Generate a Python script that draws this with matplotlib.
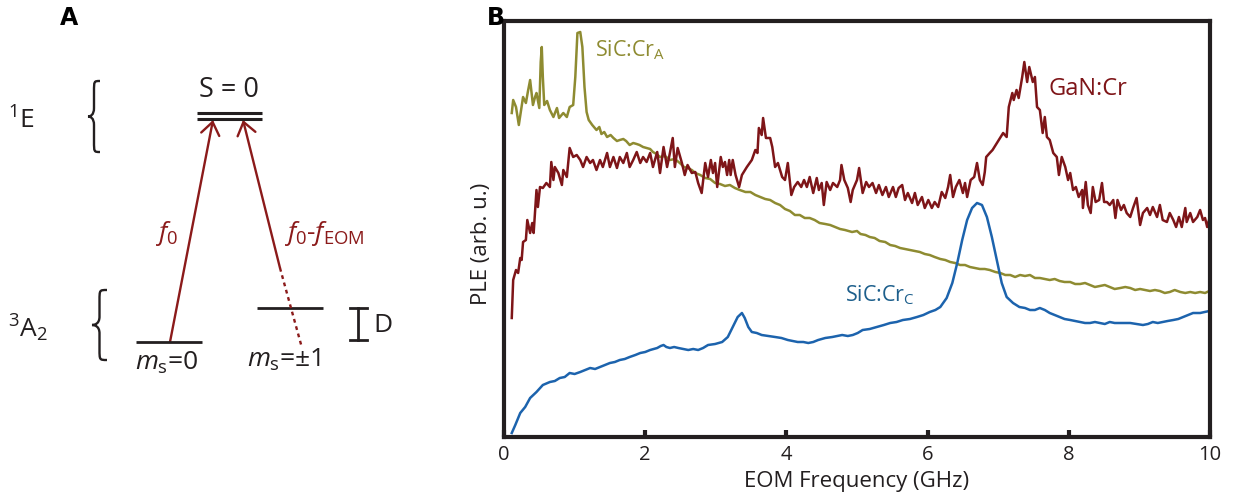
import matplotlib
matplotlib.use("Agg")
import matplotlib.pyplot as plt
from matplotlib.path import Path
from matplotlib.patches import PathPatch, FancyArrowPatch

plt.rcParams['font.family'] = ['Open Sans', 'DejaVu Sans']
plt.rcParams['mathtext.fontset'] = 'custom'
plt.rcParams['mathtext.rm'] = 'Open Sans'
plt.rcParams['mathtext.it'] = 'Open Sans:italic'
plt.rcParams['mathtext.bf'] = 'Open Sans:bold'

# ---------------- PLE spectra (arb. units) ----------------
sicA_freq = [0.11, 0.13, 0.17, 0.21, 0.24, 0.27, 0.31, 0.34, 0.37, 0.41, 0.44, 0.46, 0.50,
             0.52, 0.535, 0.55, 0.57, 0.61, 0.65, 0.70, 0.75, 0.78, 0.84, 0.89, 0.93, 0.98,
             1.01, 1.04, 1.08, 1.11, 1.14, 1.17, 1.20, 1.25, 1.31, 1.35, 1.38, 1.42, 1.46,
             1.51, 1.55, 1.60, 1.64, 1.69, 1.73, 1.78, 1.83, 1.88, 1.92, 1.97, 2.02, 2.07,
             2.11, 2.16, 2.21, 2.28, 2.35, 2.42, 2.49, 2.55, 2.60, 2.66, 2.71, 2.78, 2.85,
             2.92, 2.99, 3.06, 3.13, 3.20, 3.27, 3.34, 3.42, 3.49, 3.56, 3.63, 3.70, 3.77,
             3.84, 3.91, 3.98, 4.05, 4.12, 4.19, 4.26, 4.33, 4.40, 4.47, 4.55, 4.62, 4.69,
             4.76, 4.83, 4.93, 5.00, 5.05, 5.12, 5.18, 5.25, 5.32, 5.40, 5.47, 5.54, 5.61,
             5.68, 5.75, 5.82, 5.89, 5.96, 6.03, 6.10, 6.18, 6.25, 6.32, 6.39, 6.46, 6.53,
             6.60, 6.67, 6.74, 6.81, 6.88, 6.96, 7.03, 7.10, 7.17, 7.24, 7.31, 7.38, 7.45,
             7.52, 7.59, 7.66, 7.73, 7.80, 7.87, 7.94, 8.02, 8.09, 8.16, 8.23, 8.30, 8.37,
             8.44, 8.51, 8.58, 8.65, 8.73, 8.80, 8.87, 8.94, 9.01, 9.08, 9.15, 9.22, 9.29,
             9.36, 9.43, 9.50, 9.58, 9.65, 9.72, 9.79, 9.86, 9.93, 9.99]
sicA_ple = [324, 337, 330, 312, 326, 340, 334, 346, 357, 332, 340, 344, 329,
            375, 390, 360, 332, 336, 327, 320, 329, 319, 324, 320, 330, 332,
            360, 404, 405, 390, 350, 325, 317, 312, 307, 310, 303, 305, 300,
            302, 299, 296, 297, 298, 296, 292, 294, 293, 292, 290, 289, 288,
            285, 283, 280, 281, 277, 278, 274, 270, 269, 267, 264, 262, 259,
            258, 254, 253, 251, 252, 249, 247, 245, 245, 242, 240, 238, 237,
            234, 232, 228, 226, 222, 222, 219, 219, 217, 214, 213, 212, 210,
            208, 207, 205, 206, 203, 202, 200, 199, 196, 195, 192, 191, 189,
            188, 187, 186, 185, 183, 182, 180, 178, 177, 175, 174, 172, 172,
            170, 169, 168, 168, 167, 165, 164, 162, 162, 160, 162, 161, 162,
            159, 159, 158, 157, 158, 156, 155, 155, 153, 153, 154, 152, 150,
            151, 152, 150, 148, 149, 150, 149, 147, 148, 147, 146, 147, 146,
            144, 145, 147, 145, 144, 145, 144, 145, 144, 146]

gan_freq = [0.11, 0.13, 0.17, 0.20, 0.23, 0.25, 0.27, 0.31, 0.33, 0.37, 0.40, 0.42, 0.46,
            0.48, 0.51, 0.55, 0.60, 0.65, 0.67, 0.70, 0.72, 0.77, 0.82, 0.84, 0.89, 0.93,
            0.98, 1.03, 1.08, 1.12, 1.17, 1.22, 1.26, 1.31, 1.36, 1.40, 1.46, 1.50, 1.55,
            1.60, 1.64, 1.69, 1.74, 1.78, 1.83, 1.88, 1.93, 1.97, 2.02, 2.07, 2.11, 2.17,
            2.21, 2.26, 2.31, 2.35, 2.39, 2.42, 2.46, 2.52, 2.56, 2.60, 2.66, 2.71, 2.75,
            2.80, 2.85, 2.89, 2.93, 2.96, 2.99, 3.02, 3.07, 3.10, 3.13, 3.16, 3.19, 3.21,
            3.24, 3.28, 3.33, 3.37, 3.44, 3.51, 3.56, 3.59, 3.61, 3.65, 3.67, 3.71, 3.77,
            3.80, 3.84, 3.88, 3.94, 3.98, 4.02, 4.07, 4.11, 4.16, 4.21, 4.25, 4.29, 4.33,
            4.38, 4.43, 4.46, 4.50, 4.53, 4.57, 4.62, 4.66, 4.72, 4.76, 4.78, 4.82, 4.87,
            4.91, 4.94, 5.00, 5.03, 5.08, 5.13, 5.17, 5.22, 5.27, 5.31, 5.36, 5.41, 5.45,
            5.51, 5.55, 5.59, 5.64, 5.68, 5.72, 5.78, 5.82, 5.86, 5.92, 5.96, 6.01, 6.06,
            6.10, 6.15, 6.20, 6.25, 6.29, 6.32, 6.36, 6.40, 6.45, 6.50, 6.53, 6.56, 6.61,
            6.66, 6.70, 6.74, 6.78, 6.81, 6.83, 6.88, 6.92, 6.99, 7.07, 7.12, 7.15, 7.20,
            7.22, 7.26, 7.29, 7.34, 7.37, 7.41, 7.44, 7.49, 7.52, 7.55, 7.59, 7.63, 7.66,
            7.69, 7.73, 7.78, 7.83, 7.86, 7.90, 7.95, 7.99, 8.02, 8.06, 8.10, 8.14, 8.19,
            8.20, 8.24, 8.27, 8.31, 8.34, 8.38, 8.43, 8.47, 8.50, 8.54, 8.58, 8.63, 8.66,
            8.69, 8.74, 8.78, 8.82, 8.87, 8.91, 8.96, 9.01, 9.05, 9.11, 9.15, 9.19, 9.25,
            9.29, 9.33, 9.39, 9.43, 9.48, 9.52, 9.56, 9.60, 9.65, 9.67, 9.72, 9.76, 9.82,
            9.86, 9.90, 9.93, 9.96, 9.99]
gan_ple = [119, 157, 167, 164, 179, 177, 195, 197, 217, 204, 214, 204, 247,
           230, 250, 249, 254, 250, 275, 257, 270, 264, 252, 267, 260, 289,
           280, 282, 277, 270, 280, 274, 277, 267, 277, 270, 284, 270, 280,
           269, 280, 274, 284, 270, 277, 285, 274, 280, 275, 284, 270, 285,
           264, 290, 270, 284, 299, 270, 289, 274, 262, 272, 264, 265, 254,
           244, 274, 260, 277, 264, 274, 250, 280, 270, 275, 262, 277, 262,
           277, 262, 250, 262, 270, 277, 287, 284, 309, 302, 319, 299, 299,
           290, 270, 274, 260, 257, 274, 242, 250, 255, 250, 257, 250, 260,
           244, 259, 247, 254, 232, 255, 247, 254, 250, 257, 272, 257, 249,
           235, 247, 257, 269, 244, 255, 250, 254, 244, 252, 242, 250, 240,
           250, 240, 249, 252, 237, 244, 234, 244, 232, 240, 229, 237, 229,
           235, 230, 245, 239, 250, 262, 240, 250, 257, 244, 254, 240, 257,
           260, 274, 257, 252, 265, 280, 284, 287, 295, 304, 300, 330, 344,
           337, 347, 339, 360, 375, 355, 370, 355, 360, 330, 327, 304, 320,
           300, 297, 284, 280, 262, 280, 270, 257, 264, 247, 250, 240, 247,
           229, 255, 232, 224, 250, 235, 237, 254, 235, 235, 232, 237, 219,
           237, 227, 232, 224, 220, 229, 239, 212, 224, 229, 222, 230, 220,
           232, 217, 215, 224, 217, 210, 220, 210, 229, 215, 224, 215, 220,
           227, 217, 219, 210, 218]

sicC_freq = [0.11, 0.16, 0.23, 0.30, 0.37, 0.46, 0.55, 0.65, 0.72, 0.79, 0.86, 0.93, 1.00,
             1.08, 1.15, 1.22, 1.29, 1.36, 1.43, 1.50, 1.57, 1.64, 1.71, 1.78, 1.86, 1.93,
             2.00, 2.07, 2.12, 2.17, 2.22, 2.26, 2.30, 2.35, 2.41, 2.47, 2.54, 2.61, 2.68,
             2.75, 2.82, 2.89, 2.99, 3.09, 3.17, 3.24, 3.31, 3.37, 3.41, 3.46, 3.51, 3.58,
             3.65, 3.75, 3.84, 3.93, 4.02, 4.09, 4.16, 4.24, 4.31, 4.38, 4.45, 4.55, 4.65,
             4.72, 4.79, 4.87, 4.94, 5.01, 5.08, 5.18, 5.28, 5.38, 5.47, 5.56, 5.65, 5.75,
             5.85, 5.94, 6.03, 6.11, 6.18, 6.27, 6.35, 6.42, 6.49, 6.56, 6.63, 6.70, 6.77,
             6.84, 6.91, 6.98, 7.05, 7.12, 7.21, 7.30, 7.38, 7.45, 7.52, 7.59, 7.66, 7.73,
             7.80, 7.87, 7.94, 8.02, 8.09, 8.16, 8.23, 8.30, 8.37, 8.44, 8.51, 8.58, 8.65,
             8.73, 8.80, 8.87, 8.96, 9.05, 9.12, 9.19, 9.26, 9.33, 9.40, 9.48, 9.55, 9.62,
             9.69, 9.76, 9.86, 9.99]
sicC_ple = [4, 12, 24, 30, 39, 45, 52, 55, 56, 59, 60, 64, 63,
            65, 67, 69, 68, 70, 72, 74, 75, 77, 78, 80, 82, 84,
            85, 87, 88, 89, 91, 92, 90, 89, 90, 89, 88, 87, 88,
            87, 89, 92, 93, 95, 100, 110, 120, 124, 119, 110, 105, 104,
            102, 101, 100, 99, 97, 96, 95, 95, 94, 95, 97, 99, 100,
            101, 102, 101, 102, 104, 107, 108, 110, 112, 114, 115, 117, 118,
            120, 122, 125, 127, 130, 139, 154, 174, 197, 217, 229, 234, 232,
            220, 200, 177, 154, 140, 134, 130, 129, 127, 127, 129, 127, 124,
            122, 120, 118, 117, 116, 115, 114, 114, 115, 114, 113, 115, 114,
            114, 114, 114, 113, 112, 113, 115, 114, 115, 116, 117, 118, 120,
            122, 124, 124, 126]

x_ticks = [0, 2, 4, 6, 8, 10]

olive = '#8e8b31'
maroon = '#7e1518'
blue = '#1c63ad'
ink = '#231f20'

fig = plt.figure(figsize=(12.34, 5.0), dpi=100)

# ---------------- Panel A: energy-level diagram ----------------
axA = fig.add_axes([0, 0, 0.4, 1])
axA.set_xlim(0, 493.6)
axA.set_ylim(500, 0)
axA.axis('off')


def brace(ax, x_tip, x_end, y0, y1, **kw):
    """Left-pointing curly brace from y0 (top) to y1 (bottom)."""
    h = y1 - y0
    ym = (y0 + y1) / 2
    xs = (x_tip + x_end) / 2
    verts = [
        (x_end, y0),
        (xs, y0), (xs, y0), (xs, y0 + 0.15 * h),
        (xs, ym - 0.12 * h),
        (xs, ym - 0.02 * h), (x_tip + 0.2 * (x_end - x_tip), ym), (x_tip, ym),
        (x_tip + 0.2 * (x_end - x_tip), ym), (xs, ym + 0.02 * h), (xs, ym + 0.12 * h),
        (xs, y1 - 0.15 * h),
        (xs, y1), (xs, y1), (x_end, y1),
    ]
    codes = [Path.MOVETO,
             Path.CURVE4, Path.CURVE4, Path.CURVE4,
             Path.LINETO,
             Path.CURVE4, Path.CURVE4, Path.CURVE4,
             Path.CURVE4, Path.CURVE4, Path.CURVE4,
             Path.LINETO,
             Path.CURVE4, Path.CURVE4, Path.CURVE4]
    ax.add_patch(PathPatch(Path(verts, codes), fill=False, **kw))


axA.text(69, 18, 'A', fontsize=17, fontweight='bold', ha='center', va='center',
         color='black', family=['DejaVu Sans'])

# excited singlet
axA.text(229, 90, 'S = 0', fontsize=19.5, ha='center', va='center', color=ink)
axA.plot([197, 262], [113, 113], color=ink, lw=2.2, solid_capstyle='butt')
axA.plot([197, 262], [118.5, 118.5], color=ink, lw=2.2, solid_capstyle='butt')
axA.text(8, 121, r'$^{1}$E', fontsize=19, ha='left', va='center', color=ink)
brace(axA, 88, 100, 81, 152, color=ink, lw=1.7)

# ground triplet
axA.plot([136, 202], [342, 342], color=ink, lw=2.0, solid_capstyle='butt')
axA.plot([257, 323], [308, 308], color=ink, lw=2.0, solid_capstyle='butt')
axA.text(8, 328, r'$^{3}$A$_{2}$', fontsize=19, ha='left', va='center', color=ink)
brace(axA, 92, 107, 290, 360, color=ink, lw=1.7)
axA.text(135, 363, r'$m_{\mathrm{s}}$=0', fontsize=19, ha='left', va='center', color=ink)
axA.text(247, 360, r'$m_{\mathrm{s}}$=±1', fontsize=19, ha='left', va='center', color=ink)

# zero-field splitting marker
axA.plot([358, 358], [308, 340], color=ink, lw=2.0)
axA.plot([350, 367], [308, 308], color=ink, lw=2.0)
axA.plot([350, 367], [340, 340], color=ink, lw=2.0)
axA.text(373, 325, 'D', fontsize=19, ha='left', va='center', color=ink)

# optical transitions
arrow_red = '#8b1a1a'
axA.add_patch(FancyArrowPatch((170, 342), (213, 120),
                              arrowstyle='->,head_length=0.75,head_width=0.55',
                              mutation_scale=12, color=arrow_red, lw=1.7,
                              shrinkA=0, shrinkB=0))
axA.add_patch(FancyArrowPatch((280, 268), (243, 120),
                              arrowstyle='->,head_length=0.75,head_width=0.55',
                              mutation_scale=12, color=arrow_red, lw=1.7,
                              shrinkA=0, shrinkB=0))
axA.plot([280, 302], [268, 348], color=arrow_red, lw=1.7, linestyle=(0, (1.6, 1.6)))
axA.text(166, 233, r'$f_{\mathrm{0}}$', fontsize=19, ha='center', va='center', color=arrow_red)
axA.text(284, 233, r'$f_{\mathrm{0}}$-$f_{\mathrm{EOM}}$', fontsize=19, ha='left',
         va='center', color=arrow_red)

# ---------------- Panel B: PLE spectra ----------------
axB = fig.add_axes([504 / 1234, 1 - 437 / 500, 706 / 1234, 416 / 500])
axB.plot(sicA_freq, sicA_ple, color=olive, lw=1.8, solid_joinstyle='round')
axB.plot(gan_freq, gan_ple, color=maroon, lw=1.8, solid_joinstyle='round')
axB.plot(sicC_freq, sicC_ple, color=blue, lw=1.8, solid_joinstyle='round')

axB.set_xlim(0, 10)
axB.set_ylim(0, 416)
axB.set_xticks(x_ticks)
axB.set_xticklabels([str(t) for t in x_ticks])
axB.set_yticks([])
for sp in axB.spines.values():
    sp.set_linewidth(3.0)
    sp.set_color(ink)
axB.tick_params(axis='x', direction='in', length=5, width=3, color=ink,
                labelsize=14.5, pad=6, labelcolor=ink)
axB.set_xlabel('EOM Frequency (GHz)', fontsize=16, color=ink, labelpad=4)
axB.set_ylabel('PLE (arb. u.)', fontsize=16, color=ink)
axB.yaxis.set_label_coords(-0.017, 0.465)

axB.text(1.29, 381, r'SiC:Cr$_{\mathrm{A}}$', fontsize=15.5, color=olive,
         ha='left', va='baseline')
axB.text(7.71, 342, 'GaN:Cr', fontsize=17, color=maroon, ha='left', va='baseline')
axB.text(4.83, 136, r'SiC:Cr$_{\mathrm{C}}$', fontsize=15.5, color='#1d5f8c',
         ha='left', va='baseline')

fig.text(496 / 1234, 1 - 18 / 500, 'B', fontsize=17, fontweight='bold',
         ha='center', va='center', color='black', family=['DejaVu Sans'])

fig.savefig('out.png', dpi=100)
